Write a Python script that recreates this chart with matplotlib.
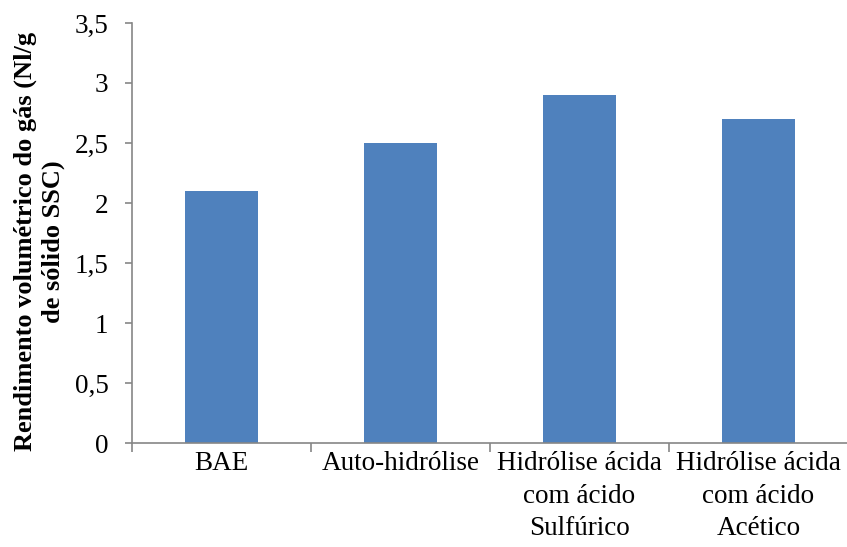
import matplotlib.pyplot as plt
from matplotlib.ticker import FuncFormatter, FixedLocator
import numpy as np

plt.rcParams['font.family'] = ['Liberation Serif', 'DejaVu Serif']

categories = ["BAE", "Auto-hidrólise", "Hidrólise ácida\ncom ácido\nSulfúrico",
              "Hidrólise ácida\ncom ácido\nAcético"]
rendimento = [2.1, 2.5, 2.9, 2.7]

fig = plt.figure(figsize=(8.47, 5.47), dpi=100)
ax = fig.add_axes([0.156, 0.19, 0.845, 0.768])

x = np.arange(len(categories))
ax.bar(x, rendimento, width=0.41, color='#4F81BD', zorder=2)

ax.set_xlim(-0.5, len(categories) - 0.5)
ax.set_ylim(0, 3.5)
ax.set_yticks(np.arange(0, 3.51, 0.5))
ax.yaxis.set_major_formatter(FuncFormatter(lambda v, p: ('%g' % v).replace('.', ',')))

# category labels centred, tick marks on the boundaries
ax.set_xticks(x)
ax.set_xticklabels(categories, fontsize=19.5, linespacing=1.38)
ax.tick_params(axis='x', which='major', length=0, pad=6)
ax.xaxis.set_minor_locator(FixedLocator(np.arange(-0.5, len(categories) + 0.5, 1)))
ax.tick_params(axis='x', which='minor', length=6.5, color='#868686', width=1.2)

ax.tick_params(axis='y', labelsize=19.5, length=5, color='#868686', width=1.2, pad=12)

for s in ['top', 'right']:
    ax.spines[s].set_visible(False)
for s in ['left', 'bottom']:
    ax.spines[s].set_color('#868686')
    ax.spines[s].set_linewidth(1.2)

ax.set_ylabel("Rendimento volumétrico do gás (Nl/g\nde sólido SSC)",
              fontsize=19, fontweight='bold', linespacing=1.25)
ax.yaxis.set_label_coords(-0.094, 0.48)

fig.savefig('out.png', dpi=100)
